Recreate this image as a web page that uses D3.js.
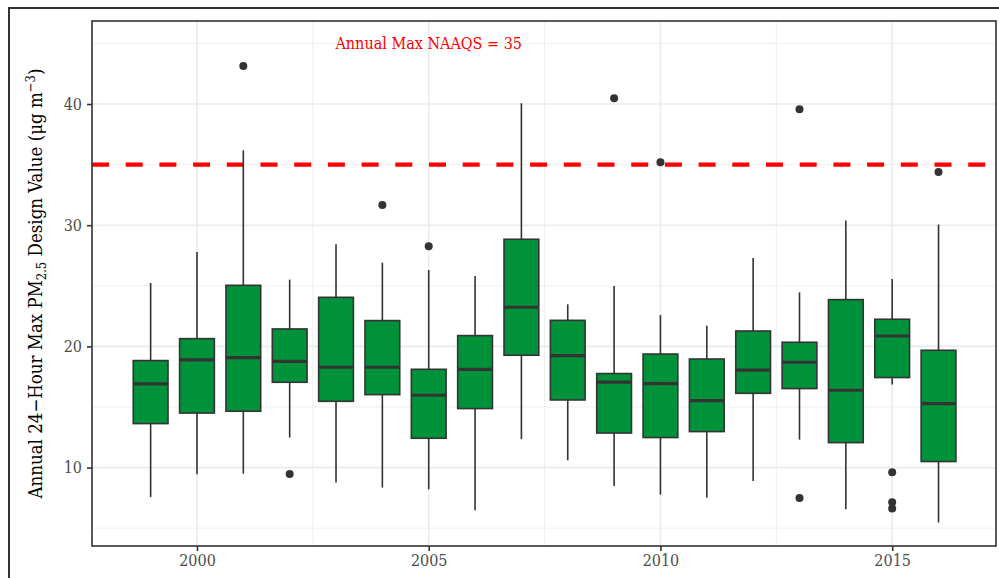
<!DOCTYPE html>
<meta charset="utf-8">
<script src="https://d3js.org/d3.v7.min.js"></script>
<style>
  body { margin: 0; background: #fff; }
  text { font-family: "DejaVu Serif", serif; font-stretch: condensed; }
</style>
<div id="chart"></div>
<script>
// boxplot stats
const years    = [1999, 2000, 2001, 2002, 2003, 2004, 2005, 2006, 2007, 2008, 2009, 2010, 2011, 2012, 2013, 2014, 2015, 2016];
const lowWhisk = [7.57, 9.45, 9.5, 12.48, 8.76, 8.35, 8.21, 6.48, 12.33, 10.6, 8.48, 7.77, 7.52, 8.9, 12.31, 6.57, 16.85, 5.46];
const q1       = [13.63, 14.5, 14.65, 17.04, 15.47, 16.02, 12.42, 14.87, 19.27, 15.58, 12.85, 12.48, 12.97, 16.13, 16.52, 12.06, 17.43, 10.5];
const medians  = [16.9, 18.88, 19.08, 18.77, 18.28, 18.28, 15.97, 18.11, 23.23, 19.24, 17.06, 16.93, 15.53, 18.05, 18.69, 16.38, 20.86, 15.28];
const q3       = [18.83, 20.64, 25.04, 21.44, 24.05, 22.13, 18.11, 20.89, 28.84, 22.15, 17.76, 19.37, 18.96, 21.27, 20.34, 23.86, 22.24, 19.68];
const highWhisk= [25.23, 27.79, 36.18, 25.51, 28.42, 26.91, 26.3, 25.81, 40.06, 23.47, 24.98, 22.59, 21.72, 27.29, 24.46, 30.38, 25.56, 30.05];
const outlierYears  = [2001, 2002, 2004, 2005, 2009, 2010, 2013, 2013, 2015, 2015, 2015, 2016];
const outlierValues = [43.13, 9.47, 31.67, 28.26, 40.47, 35.19, 39.56, 7.49, 9.61, 7.14, 6.62, 34.39];
const xTicks = [2000, 2005, 2010, 2015];
const yTicks = [10, 20, 30, 40];
const naaqs = 35;

const W = 999, H = 578;
const margin = {top: 21, right: 3, bottom: 32, left: 92};

const svg = d3.select("#chart").append("svg")
  .attr("width", W).attr("height", H);

// outer frame
svg.append("rect")
  .attr("x", 9).attr("y", 8).attr("width", 1010).attr("height", 620)
  .attr("fill", "none").attr("stroke", "#333").attr("stroke-width", 2);

const x = d3.scaleLinear().domain([1997.735, 2017.24]).range([margin.left, W - margin.right]);
const y = d3.scaleLinear().domain([3.53, 46.85]).range([H - margin.bottom, margin.top]);

const g = svg.append("g");

// grid: minor then major
const minorY = [5, 15, 25, 35, 45];
const minorX = [2002.5, 2007.5, 2012.5];
g.selectAll(".minY").data(minorY).join("line")
  .attr("x1", x.range()[0]).attr("x2", x.range()[1])
  .attr("y1", d => y(d)).attr("y2", d => y(d))
  .attr("stroke", "#ebebeb").attr("stroke-width", 0.8);
g.selectAll(".minX").data(minorX).join("line")
  .attr("y1", y.range()[0]).attr("y2", y.range()[1])
  .attr("x1", d => x(d)).attr("x2", d => x(d))
  .attr("stroke", "#ebebeb").attr("stroke-width", 0.8);
g.selectAll(".majY").data(yTicks).join("line")
  .attr("x1", x.range()[0]).attr("x2", x.range()[1])
  .attr("y1", d => y(d)).attr("y2", d => y(d))
  .attr("stroke", "#ebebeb").attr("stroke-width", 1.6);
g.selectAll(".majX").data(xTicks).join("line")
  .attr("y1", y.range()[0]).attr("y2", y.range()[1])
  .attr("x1", d => x(d)).attr("x2", d => x(d))
  .attr("stroke", "#ebebeb").attr("stroke-width", 1.6);

// NAAQS dashed line
g.append("line")
  .attr("x1", x.range()[0]).attr("x2", x.range()[1])
  .attr("y1", y(naaqs)).attr("y2", y(naaqs))
  .attr("stroke", "#ff0000").attr("stroke-width", 4.2)
  .attr("stroke-dasharray", "17,16.7");

g.append("text")
  .attr("x", x(2005)).attr("y", y(45))
  .attr("dy", "0.35em")
  .attr("text-anchor", "middle")
  .attr("fill", "#ff0000")
  .style("font-size", "16px")
  .text("Annual Max NAAQS = " + naaqs);

// boxes
const data = years.map((yr, i) => ({yr, lo: lowWhisk[i], q1: q1[i], med: medians[i], q3: q3[i], hi: highWhisk[i]}));
const hw = (x(1) - x(0)) * 0.375;
const boxes = g.selectAll(".box").data(data).join("g");
boxes.append("line")
  .attr("x1", d => x(d.yr)).attr("x2", d => x(d.yr))
  .attr("y1", d => y(d.hi)).attr("y2", d => y(d.lo))
  .attr("stroke", "#333").attr("stroke-width", 1.6);
boxes.append("rect")
  .attr("x", d => x(d.yr) - hw).attr("width", hw * 2)
  .attr("y", d => y(d.q3)).attr("height", d => y(d.q1) - y(d.q3))
  .attr("fill", "#00923a").attr("stroke", "#333").attr("stroke-width", 1.6);
boxes.append("line")
  .attr("x1", d => x(d.yr) - hw).attr("x2", d => x(d.yr) + hw)
  .attr("y1", d => y(d.med)).attr("y2", d => y(d.med))
  .attr("stroke", "#333").attr("stroke-width", 3.2);

// outliers
g.selectAll(".out").data(outlierYears.map((yr, i) => ({yr, v: outlierValues[i]}))).join("circle")
  .attr("cx", d => x(d.yr)).attr("cy", d => y(d.v)).attr("r", 4)
  .attr("fill", "#333");

// panel border
svg.append("rect")
  .attr("x", x.range()[0]).attr("y", y.range()[1])
  .attr("width", x.range()[1] - x.range()[0]).attr("height", y.range()[0] - y.range()[1])
  .attr("fill", "none").attr("stroke", "#333").attr("stroke-width", 1.6);

// axes
const xAxis = svg.append("g")
  .attr("transform", `translate(0,${y.range()[0]})`)
  .call(d3.axisBottom(x).tickValues(xTicks).tickFormat(d3.format("d")).tickSize(5).tickPadding(4));
const yAxis = svg.append("g")
  .attr("transform", `translate(${x.range()[0]},0)`)
  .call(d3.axisLeft(y).tickValues(yTicks).tickSize(5).tickPadding(5));
[xAxis, yAxis].forEach(a => {
  a.select(".domain").remove();
  a.selectAll(".tick line").attr("stroke", "#333").attr("stroke-width", 1.6);
  a.selectAll(".tick text").attr("fill", "#4d4d4d").style("font-size", "16px")
    .style("font-family", "'DejaVu Serif', serif").style("font-stretch", "condensed");
});

// y label
const ylab = svg.append("text")
  .attr("transform", `translate(42,${(y.range()[0] + y.range()[1]) / 2}) rotate(-90)`)
  .attr("text-anchor", "middle")
  .attr("fill", "#000")
  .style("font-size", "18.5px");
ylab.append("tspan").text("Annual 24\u2212Hour Max PM");
ylab.append("tspan").attr("dy", 4).style("font-size", "13px").text("2.5");
ylab.append("tspan").attr("dy", -4).text(" Design Value (\u03bcg m");
ylab.append("tspan").attr("dy", -7).style("font-size", "13px").text("\u22123");
ylab.append("tspan").attr("dy", 7).text(")");
</script>
